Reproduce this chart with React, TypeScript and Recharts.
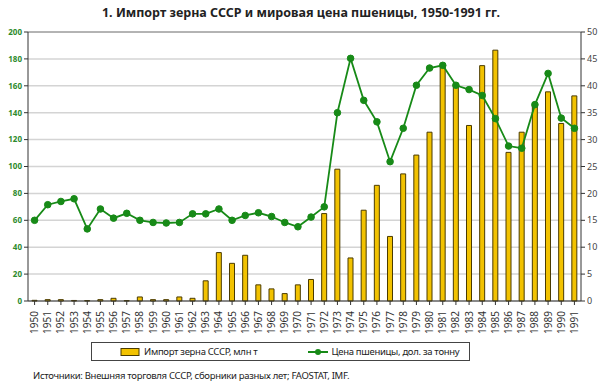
import {
  ComposedChart,
  Bar,
  Line,
  XAxis,
  YAxis,
  CartesianGrid,
  ReferenceLine,
} from "recharts";

const years = [
  "1950", "1951", "1952", "1953", "1954", "1955", "1956", "1957", "1958", "1959",
  "1960", "1961", "1962", "1963", "1964", "1965", "1966", "1967", "1968", "1969",
  "1970", "1971", "1972", "1973", "1974", "1975", "1976", "1977", "1978", "1979",
  "1980", "1981", "1982", "1983", "1984", "1985", "1986", "1987", "1988", "1989",
  "1990", "1991",
];

// grain import, mln t (left axis)
const grainImport = [
  0.5, 1, 1, 0.4, 0.3, 1, 2, 0.3, 3, 1,
  1, 3, 2, 15, 36, 28, 34, 12, 9, 5.5,
  12, 16, 65, 98, 32, 67.5, 86, 48, 94.5, 108.5,
  125.5, 175, 161, 130.5, 175, 186.5, 110.5, 125.5, 146, 155.5,
  132, 152.5,
];

// wheat price, USD per tonne (right axis)
const wheatPrice = [
  15, 17.9, 18.5, 19, 13.4, 17.1, 15.4, 16.3, 15, 14.6,
  14.5, 14.6, 16.2, 16.2, 17.1, 15, 15.9, 16.4, 15.7, 14.6,
  13.8, 15.6, 17.5, 35, 45.1, 37.3, 33.3, 25.9, 32.1, 40.1,
  43.3, 43.8, 40.1, 39.3, 38.2, 33.9, 28.8, 28.4, 36.5, 42.3,
  34, 32.1,
];

const leftTicks = [0, 20, 40, 60, 80, 100, 120, 140, 160, 180, 200];
const rightTicks = [0, 5, 10, 15, 20, 25, 30, 35, 40, 45, 50];

const title = "1. Импорт зерна СССР и мировая цена пшеницы, 1950-1991 гг.";
const barName = "Импорт зерна СССР, млн т";
const lineName = "Цена пшеницы, дол. за тонну";
const sourceText = "Источники: Внешняя торговля СССР, сборники разных лет; FAOSTAT, IMF.";

const data = years.map((y, i) => ({
  year: y,
  grain: grainImport[i],
  price: wheatPrice[i],
}));

const BAR_FILL = "#f2c200";
const BAR_STROKE = "#4a3b00";
const LINE_COLOR = "#178a17";
const FONT = "'Noto Sans', 'Open Sans', sans-serif";

const YearTick = (props: any) => {
  const { x, y, payload } = props;
  return (
    <g transform={`translate(${x},${y})`}>
      <text
        transform="rotate(-90)"
        x={-4}
        y={0}
        dy={3.5}
        textAnchor="end"
        fontSize={10}
        fill="#333"
        fontFamily={FONT}
      >
        {payload.value}
      </text>
    </g>
  );
};

const ChartLegend = () => (
  <div
    style={{
      position: "absolute",
      left: 91,
      top: 342,
      width: 379,
      height: 19,
      border: "1px solid #444",
      boxSizing: "border-box",
      display: "flex",
      alignItems: "center",
      fontSize: 9.5,
      letterSpacing: -0.3,
      color: "#222",
      whiteSpace: "nowrap",
    }}
  >
    <svg width={20} height={10} style={{ marginLeft: 28, flexShrink: 0 }}>
      <rect x={1} y={1.5} width={18} height={7} fill={BAR_FILL} stroke={BAR_STROKE} />
    </svg>
    <span style={{ marginLeft: 4 }}>{barName}</span>
    <svg width={20} height={10} style={{ marginLeft: 51, flexShrink: 0 }}>
      <line x1={0} y1={5} x2={20} y2={5} stroke={LINE_COLOR} strokeWidth={2} />
      <circle cx={10} cy={5} r={3} fill={LINE_COLOR} />
    </svg>
    <span style={{ marginLeft: 3 }}>{lineName}</span>
  </div>
);

export default function App() {
  return (
    <div
      style={{
        position: "absolute",
        left: 0,
        top: 0,
        width: 602,
        height: 383,
        background: "#fff",
        fontFamily: FONT,
      }}
    >
      <div
        style={{
          position: "absolute",
          top: 4,
          left: 0,
          width: 602,
          textAlign: "center",
          fontWeight: "bold",
          fontSize: 12.5,
          color: "#222",
        }}
      >
        {title}
      </div>
      <ComposedChart
        width={602}
        height={383}
        data={data}
        margin={{ top: 32, right: 0, bottom: 42, left: 0 }}
      >
        <CartesianGrid
          vertical={false}
          yAxisId="left"
          stroke="#d4d4d4"
          strokeWidth={1.5}
        />
        <XAxis
          dataKey="year"
          interval={0}
          tick={<YearTick />}
          tickLine={{ stroke: "#333" }}
          tickSize={4}
          axisLine={{ stroke: "#333" }}
          height={40}
        />
        <YAxis
          yAxisId="left"
          orientation="left"
          domain={[0, 200]}
          ticks={leftTicks}
          width={28}
          tickSize={4}
          tickMargin={2}
          axisLine={{ stroke: "#333" }}
          tickLine={{ stroke: "#333" }}
          tick={{ fill: "#2e8b2e", fontSize: 8, fontWeight: "bold", fontFamily: FONT }}
        />
        <YAxis
          yAxisId="right"
          orientation="right"
          domain={[0, 50]}
          ticks={rightTicks}
          width={21}
          tickSize={4}
          tickMargin={2}
          axisLine={{ stroke: "#333" }}
          tickLine={{ stroke: "#333" }}
          tick={{ fill: "#444", fontSize: 9, fontFamily: FONT, textAnchor: "start" }}
        />
        <ReferenceLine yAxisId="left" y={200} stroke="#888" strokeWidth={1} />
        <Bar
          yAxisId="left"
          dataKey="grain"
          name={barName}
          fill={BAR_FILL}
          stroke={BAR_STROKE}
          strokeWidth={1}
          barSize={5}
          isAnimationActive={false}
        />
        <Line
          yAxisId="right"
          dataKey="price"
          name={lineName}
          type="linear"
          stroke={LINE_COLOR}
          strokeWidth={1.8}
          dot={{ r: 3.3, fill: LINE_COLOR, stroke: LINE_COLOR, strokeWidth: 1 }}
          isAnimationActive={false}
        />
      </ComposedChart>
      <ChartLegend />
      <div
        style={{
          position: "absolute",
          left: 33,
          top: 369,
          fontSize: 9.5,
          letterSpacing: -0.3,
          color: "#222",
          whiteSpace: "nowrap",
        }}
      >
        {sourceText}
      </div>
    </div>
  );
}
